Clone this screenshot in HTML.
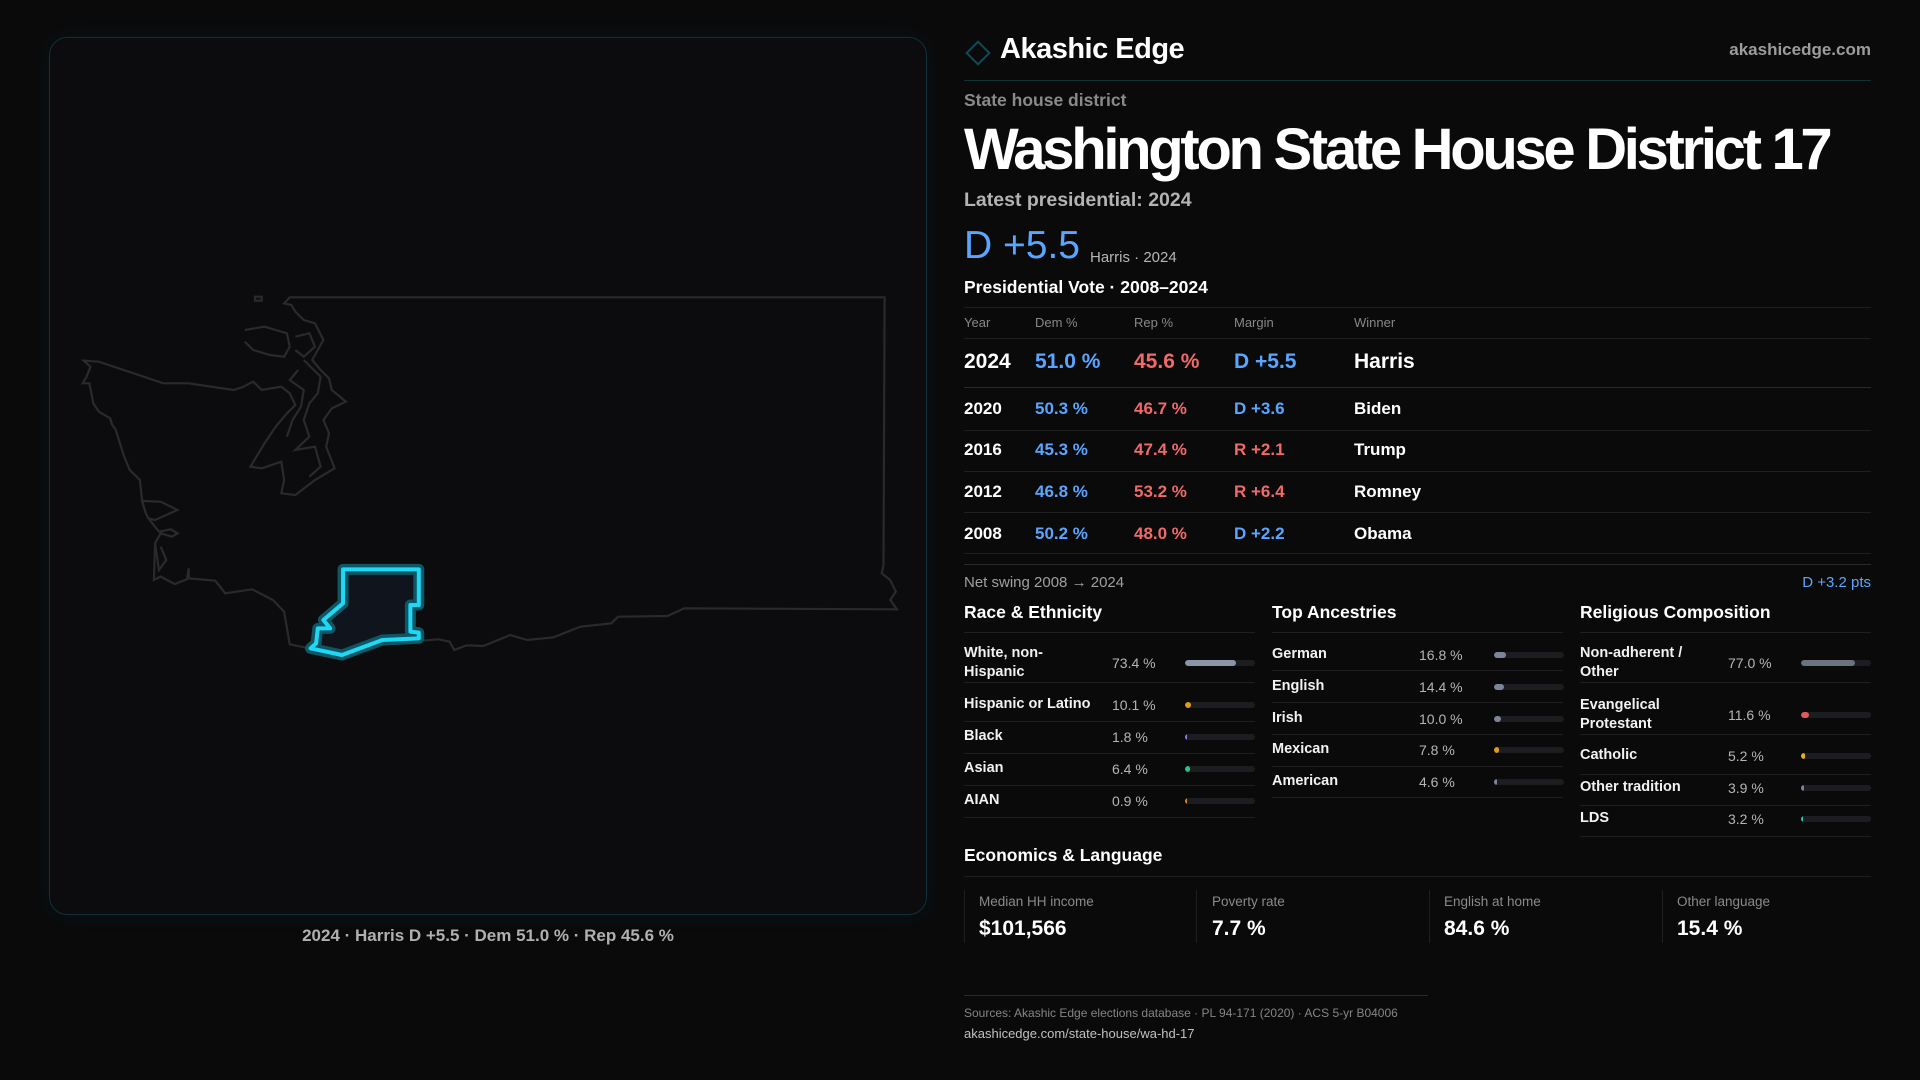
<!DOCTYPE html>
<html><head><meta charset="utf-8"><style>
*{margin:0;padding:0;box-sizing:border-box}
body{width:1920px;height:1080px;background:#0a0a0b;font-family:"Liberation Sans",sans-serif;color:#fff;position:relative;overflow:hidden}
.a{position:absolute;white-space:nowrap;line-height:1}
.g{color:#9a9a9a}
.b{color:#5aa5ff}.r{color:#f06a6a}
.hl{position:absolute;height:1px;background:#1f1f22}
.lab{position:absolute;font-size:14.5px;font-weight:bold;line-height:19px;color:#f2f2f2}
.val{position:absolute;font-size:14px;color:#b5b5b5;line-height:1}
.trk{position:absolute;height:6px;width:70px;border-radius:3px;background:#1c1d21;overflow:hidden}
.trk i{display:block;height:6px;border-radius:3px}
</style></head><body>

<!-- map panel -->
<div style="position:absolute;left:49px;top:37px;width:878px;height:878px;border:1px solid #12303a;border-radius:18px;background:#0c0c0e;box-shadow:0 0 20px rgba(0,180,220,0.06)"></div>
<svg style="position:absolute;left:0;top:0" width="960" height="1000">
<g transform="translate(40,280) scale(0.5612,0.33333)" fill="none" stroke="#2a2a2c" stroke-width="2.2" vector-effect="non-scaling-stroke">
<polygon vector-effect="non-scaling-stroke" points="445,52 1505,52 1503,855 1500,880 1515,900 1525,935 1515,960 1527,988 1148,985 1118,1008 1030,1010 1018,1030 963,1040 915,1072 868,1080 838,1065 790,1098 760,1096 738,1110 730,1085 710,1078 680,1082 610,1085 538,1130 480,1105 445,1093 435,995 415,960 378,928 330,940 320,918 312,902 265,895 265,865 262,898 240,912 215,890 203,900 205,790 215,760 235,770 245,760 233,748 212,755 193,715 188,698 182,663 178,600 160,570 150,530 135,450 128,432 125,415 105,395 95,370 88,310 76,310 83,290 90,260 78,242 105,245 220,310 265,310 345,330 360,322 380,305 395,330 430,320 445,340 455,375 440,400 420,440 400,490 375,560 395,565 430,545 435,600 430,640 455,645 490,600 525,565 510,500 515,460 505,420 520,385 545,365 520,330 515,295 500,270 485,240 505,180 490,130 470,120 455,95 448,75 435,70"/>
<polyline vector-effect="non-scaling-stroke" points="182,663 215,665 245,690 205,720 193,715"/>
<polyline vector-effect="non-scaling-stroke" points="205,790 212,870 225,840 215,800"/>
<polyline vector-effect="non-scaling-stroke" points="365,150 400,140 440,160 445,200 435,230 410,225 380,210 365,185"/>
<polyline vector-effect="non-scaling-stroke" points="455,170 480,160 490,200 470,230 455,210"/>
<polyline vector-effect="non-scaling-stroke" points="470,240 500,290 495,340 480,370 470,420 480,470 455,510 490,500 500,560 480,590"/>
<polyline vector-effect="non-scaling-stroke" points="460,270 445,300 470,330 465,380 450,420 440,470"/>
<rect vector-effect="non-scaling-stroke" x="383" y="50" width="12" height="12"/>
</g>
<g transform="translate(40,280) scale(0.5612,0.33333)">
<polygon vector-effect="non-scaling-stroke" points="540,868 675,868 675,975 660,975 660,1055 675,1058 675,1075 610,1080 538,1125 482,1105 492,1090 495,1045 517,1045 505,1020 540,970" fill="#10141c" stroke="#0e5663" stroke-width="11" stroke-linejoin="round"/>
<polygon vector-effect="non-scaling-stroke" points="540,868 675,868 675,975 660,975 660,1055 675,1058 675,1075 610,1080 538,1125 482,1105 492,1090 495,1045 517,1045 505,1020 540,970" fill="none" stroke="#1fd8f5" stroke-width="4" stroke-linejoin="round"/>
</g>
</svg>
<div class="a g" style="left:0;width:976px;text-align:center;top:927px;font-size:17px;color:#b0b0b0;font-weight:bold">2024 · Harris D +5.5 · Dem 51.0 % · Rep 45.6 %</div>

<!-- header -->
<div style="position:absolute;left:969px;top:44px;width:18px;height:18px;border:2px solid #0f4a55;transform:rotate(45deg)"></div>
<div class="a" style="left:1000px;top:35px;font-size:29px;font-weight:bold;letter-spacing:-0.5px">Akashic Edge</div>
<div class="a g" style="right:49px;top:41px;font-size:17px;font-weight:bold;color:#9c9c9c">akashicedge.com</div>
<div class="hl" style="left:964px;width:907px;top:80px;background:#123238"></div>
<div class="a g" style="left:964px;top:92px;font-size:17.5px;font-weight:bold;color:#8a8a8a">State house district</div>
<div class="a" style="left:964px;top:121px;font-size:58px;font-weight:bold;letter-spacing:-3.3px">Washington State House District 17</div>
<div class="a" style="left:964px;top:191px;font-size:19.5px;font-weight:bold;color:#b3b3b3">Latest presidential: 2024</div>
<div class="a b" style="left:964px;top:226px;font-size:39px;">D +5.5</div>
<div class="a" style="left:1090px;top:250px;font-size:15px;color:#b5b5b5">Harris · 2024</div>
<div class="a" style="left:964px;top:279px;font-size:17.5px;font-weight:bold">Presidential Vote · 2008–2024</div>
<div class="hl" style="left:964px;width:907px;top:307px"></div>
<div class="a" style="left:964px;top:316px;font-size:13px;color:#888">Year</div>
<div class="a" style="left:1035px;top:316px;font-size:13px;color:#888">Dem %</div>
<div class="a" style="left:1134px;top:316px;font-size:13px;color:#888">Rep %</div>
<div class="a" style="left:1234px;top:316px;font-size:13px;color:#888">Margin</div>
<div class="a" style="left:1354px;top:316px;font-size:13px;color:#888">Winner</div>
<div class="hl" style="left:964px;width:907px;top:338px"></div>

<div class="a" style="left:964px;top:351px;font-size:21px;font-weight:bold">2024</div>
<div class="a b" style="left:1035px;top:351px;font-size:21px;font-weight:bold">51.0 %</div>
<div class="a r" style="left:1134px;top:351px;font-size:21px;font-weight:bold">45.6 %</div>
<div class="a b" style="left:1234px;top:351px;font-size:21px;font-weight:bold">D +5.5</div>
<div class="a" style="left:1354px;top:351px;font-size:21px;font-weight:bold">Harris</div>
<div class="hl" style="left:964px;width:907px;top:387px;background:#2a2a2d"></div>

<div class="a" style="left:964px;top:400px;font-size:17px;font-weight:bold">2020</div>
<div class="a b" style="left:1035px;top:400px;font-size:17px;font-weight:bold">50.3 %</div>
<div class="a r" style="left:1134px;top:400px;font-size:17px;font-weight:bold">46.7 %</div>
<div class="a b" style="left:1234px;top:400px;font-size:17px;font-weight:bold">D +3.6</div>
<div class="a" style="left:1354px;top:400px;font-size:17px;font-weight:bold">Biden</div>
<div class="hl" style="left:964px;width:907px;top:430px"></div>

<div class="a" style="left:964px;top:441px;font-size:17px;font-weight:bold">2016</div>
<div class="a b" style="left:1035px;top:441px;font-size:17px;font-weight:bold">45.3 %</div>
<div class="a r" style="left:1134px;top:441px;font-size:17px;font-weight:bold">47.4 %</div>
<div class="a r" style="left:1234px;top:441px;font-size:17px;font-weight:bold">R +2.1</div>
<div class="a" style="left:1354px;top:441px;font-size:17px;font-weight:bold">Trump</div>
<div class="hl" style="left:964px;width:907px;top:471px"></div>

<div class="a" style="left:964px;top:483px;font-size:17px;font-weight:bold">2012</div>
<div class="a b" style="left:1035px;top:483px;font-size:17px;font-weight:bold">46.8 %</div>
<div class="a r" style="left:1134px;top:483px;font-size:17px;font-weight:bold">53.2 %</div>
<div class="a r" style="left:1234px;top:483px;font-size:17px;font-weight:bold">R +6.4</div>
<div class="a" style="left:1354px;top:483px;font-size:17px;font-weight:bold">Romney</div>
<div class="hl" style="left:964px;width:907px;top:512px"></div>

<div class="a" style="left:964px;top:525px;font-size:17px;font-weight:bold">2008</div>
<div class="a b" style="left:1035px;top:525px;font-size:17px;font-weight:bold">50.2 %</div>
<div class="a r" style="left:1134px;top:525px;font-size:17px;font-weight:bold">48.0 %</div>
<div class="a b" style="left:1234px;top:525px;font-size:17px;font-weight:bold">D +2.2</div>
<div class="a" style="left:1354px;top:525px;font-size:17px;font-weight:bold">Obama</div>
<div class="hl" style="left:964px;width:907px;top:553px"></div>
<div class="hl" style="left:964px;width:907px;top:564px;background:#2a2a2d"></div>

<div class="a" style="left:964px;top:575px;font-size:15px;color:#a0a0a0">Net swing 2008 → 2024</div>
<div class="a b" style="right:49px;top:575px;font-size:15px">D +3.2 pts</div>

<!-- section headings -->
<div class="a" style="left:964px;top:604px;font-size:17.5px;font-weight:bold">Race &amp; Ethnicity</div>
<div class="a" style="left:1272px;top:604px;font-size:17.5px;font-weight:bold">Top Ancestries</div>
<div class="a" style="left:1580px;top:604px;font-size:17.5px;font-weight:bold">Religious Composition</div>
<div class="hl" style="left:964px;width:291px;top:632px"></div>
<div class="hl" style="left:1272px;width:291px;top:632px"></div>
<div class="hl" style="left:1580px;width:291px;top:632px"></div>

<!-- race -->
<div class="lab" style="left:964px;top:644px">White, non-<br>Hispanic</div><div class="val" style="left:1112px;top:656px">73.4 %</div><div class="trk" style="left:1185px;top:660px"><i style="width:73%;background:#8b95a8"></i></div>
<div class="hl" style="left:964px;width:291px;top:682px"></div>
<div class="lab" style="left:964px;top:695px">Hispanic or Latino</div><div class="val" style="left:1112px;top:698px">10.1 %</div><div class="trk" style="left:1185px;top:702px"><i style="width:6px;background:#e39a16"></i></div>
<div class="hl" style="left:964px;width:291px;top:721px"></div>
<div class="lab" style="left:964px;top:727px">Black</div><div class="val" style="left:1112px;top:730px">1.8 %</div><div class="trk" style="left:1185px;top:734px"><i style="width:2px;background:#8b7be8"></i></div>
<div class="hl" style="left:964px;width:291px;top:753px"></div>
<div class="lab" style="left:964px;top:759px">Asian</div><div class="val" style="left:1112px;top:762px">6.4 %</div><div class="trk" style="left:1185px;top:766px"><i style="width:5px;background:#25c48a"></i></div>
<div class="hl" style="left:964px;width:291px;top:785px"></div>
<div class="lab" style="left:964px;top:791px">AIAN</div><div class="val" style="left:1112px;top:794px">0.9 %</div><div class="trk" style="left:1185px;top:798px"><i style="width:2px;background:#d9822b"></i></div>
<div class="hl" style="left:964px;width:291px;top:817px"></div>

<!-- ancestries -->
<div class="lab" style="left:1272px;top:645px">German</div><div class="val" style="left:1419px;top:648px">16.8 %</div><div class="trk" style="left:1494px;top:652px"><i style="width:12px;background:#7d8698"></i></div>
<div class="hl" style="left:1272px;width:291px;top:670px"></div>
<div class="lab" style="left:1272px;top:677px">English</div><div class="val" style="left:1419px;top:680px">14.4 %</div><div class="trk" style="left:1494px;top:684px"><i style="width:10px;background:#7d8698"></i></div>
<div class="hl" style="left:1272px;width:291px;top:702px"></div>
<div class="lab" style="left:1272px;top:709px">Irish</div><div class="val" style="left:1419px;top:712px">10.0 %</div><div class="trk" style="left:1494px;top:716px"><i style="width:7px;background:#7d8698"></i></div>
<div class="hl" style="left:1272px;width:291px;top:734px"></div>
<div class="lab" style="left:1272px;top:740px">Mexican</div><div class="val" style="left:1419px;top:743px">7.8 %</div><div class="trk" style="left:1494px;top:747px"><i style="width:5px;background:#e39a16"></i></div>
<div class="hl" style="left:1272px;width:291px;top:766px"></div>
<div class="lab" style="left:1272px;top:772px">American</div><div class="val" style="left:1419px;top:775px">4.6 %</div><div class="trk" style="left:1494px;top:779px"><i style="width:3px;background:#7d8698"></i></div>
<div class="hl" style="left:1272px;width:291px;top:797px"></div>

<!-- religion -->
<div class="lab" style="left:1580px;top:644px">Non-adherent /<br>Other</div><div class="val" style="left:1728px;top:656px">77.0 %</div><div class="trk" style="left:1801px;top:660px"><i style="width:77%;background:#6b7280"></i></div>
<div class="hl" style="left:1580px;width:291px;top:682px"></div>
<div class="lab" style="left:1580px;top:696px">Evangelical<br>Protestant</div><div class="val" style="left:1728px;top:708px">11.6 %</div><div class="trk" style="left:1801px;top:712px"><i style="width:8px;background:#e05a5a"></i></div>
<div class="hl" style="left:1580px;width:291px;top:734px"></div>
<div class="lab" style="left:1580px;top:746px">Catholic</div><div class="val" style="left:1728px;top:749px">5.2 %</div><div class="trk" style="left:1801px;top:753px"><i style="width:4px;background:#e0b020"></i></div>
<div class="hl" style="left:1580px;width:291px;top:774px"></div>
<div class="lab" style="left:1580px;top:778px">Other tradition</div><div class="val" style="left:1728px;top:781px">3.9 %</div><div class="trk" style="left:1801px;top:785px"><i style="width:3px;background:#7d8698"></i></div>
<div class="hl" style="left:1580px;width:291px;top:805px"></div>
<div class="lab" style="left:1580px;top:809px">LDS</div><div class="val" style="left:1728px;top:812px">3.2 %</div><div class="trk" style="left:1801px;top:816px"><i style="width:2px;background:#2ec4b6"></i></div>
<div class="hl" style="left:1580px;width:291px;top:836px"></div>

<!-- economics -->
<div class="a" style="left:964px;top:847px;font-size:17.5px;font-weight:bold">Economics &amp; Language</div>
<div class="hl" style="left:964px;width:907px;top:876px"></div>
<div style="position:absolute;left:964px;top:890px;width:1px;height:53px;background:#1f1f22"></div>
<div style="position:absolute;left:1196px;top:890px;width:1px;height:53px;background:#1f1f22"></div>
<div style="position:absolute;left:1429px;top:890px;width:1px;height:53px;background:#1f1f22"></div>
<div style="position:absolute;left:1662px;top:890px;width:1px;height:53px;background:#1f1f22"></div>
<div class="a" style="left:979px;top:895px;font-size:13.5px;color:#8a8a8a">Median HH income</div>
<div class="a" style="left:979px;top:918px;font-size:21px;font-weight:bold">$101,566</div>
<div class="a" style="left:1212px;top:895px;font-size:13.5px;color:#8a8a8a">Poverty rate</div>
<div class="a" style="left:1212px;top:918px;font-size:21px;font-weight:bold">7.7 %</div>
<div class="a" style="left:1444px;top:895px;font-size:13.5px;color:#8a8a8a">English at home</div>
<div class="a" style="left:1444px;top:918px;font-size:21px;font-weight:bold">84.6 %</div>
<div class="a" style="left:1677px;top:895px;font-size:13.5px;color:#8a8a8a">Other language</div>
<div class="a" style="left:1677px;top:918px;font-size:21px;font-weight:bold">15.4 %</div>

<!-- footer -->
<div class="hl" style="left:964px;width:464px;top:995px;background:#123238"></div>
<div class="a" style="left:964px;top:1007px;font-size:12px;color:#858585">Sources: Akashic Edge elections database · PL 94-171 (2020) · ACS 5-yr B04006</div>
<div class="a" style="left:964px;top:1027px;font-size:13px;color:#c0c0c0">akashicedge.com/state-house/wa-hd-17</div>
</body></html>
